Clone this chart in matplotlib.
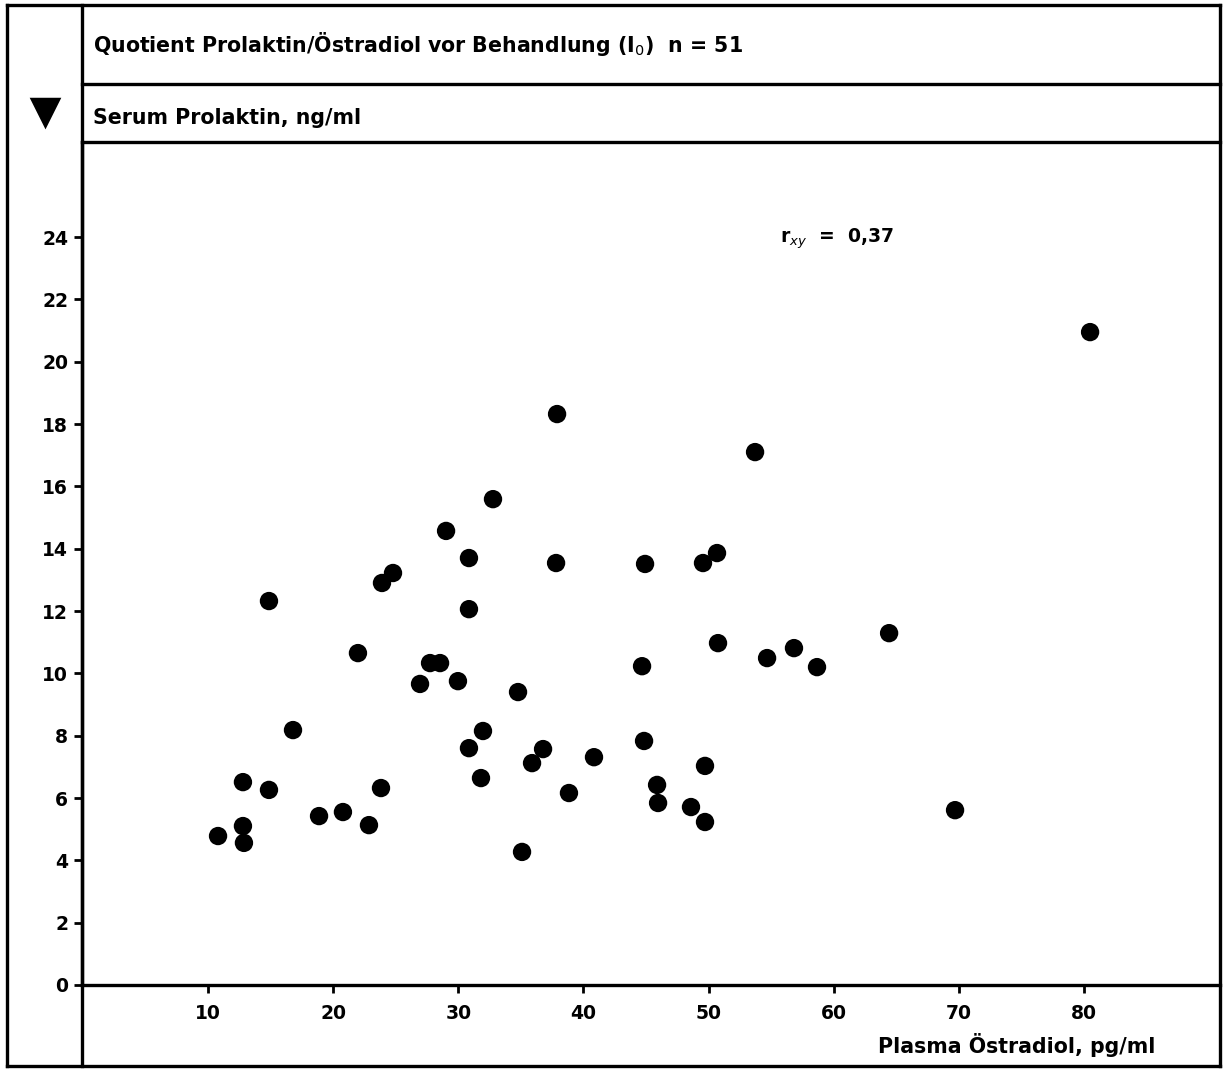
import matplotlib
matplotlib.use("Agg")
import matplotlib.pyplot as plt

# ---- data ----
oestradiol = [10.80, 12.79, 12.79, 12.87, 14.87, 14.87, 16.79, 18.87, 20.78, 21.98,
              22.86, 23.82, 23.90, 24.78, 26.94, 27.74, 28.54, 29.02, 29.97, 30.85,
              30.85, 30.85, 31.97, 31.81, 32.77, 34.77, 35.09, 35.89, 36.77, 37.89,
              37.81, 38.84, 40.84, 44.68, 44.92, 44.84, 45.88, 45.96, 48.59, 49.55,
              50.67, 49.71, 49.71, 50.75, 53.71, 54.67, 56.82, 58.66, 64.42, 69.69,
              80.48]
prolaktin = [4.78, 6.51, 5.10, 4.56, 6.26, 12.32, 8.18, 5.42, 5.55, 10.65,
             5.13, 6.32, 12.90, 13.22, 9.66, 10.33, 10.33, 14.57, 9.75, 13.70,
             12.06, 7.60, 8.15, 6.64, 15.59, 9.40, 4.27, 7.12, 7.57, 18.32,
             13.54, 6.16, 7.31, 10.23, 13.51, 7.83, 6.42, 5.84, 5.71, 13.54,
             13.86, 7.03, 5.23, 10.97, 17.10, 10.49, 10.81, 10.20, 11.29, 5.61,
             20.95]
x_ticks = [10, 20, 30, 40, 50, 60, 70, 80]
y_ticks = [0, 2, 4, 6, 8, 10, 12, 14, 16, 18, 20, 22, 24]

title_text = "Quotient Prolaktin/Östradiol vor Behandlung (I$_0$)  n = 51"
ylabel_text = "Serum Prolaktin, ng/ml"
xlabel_text = "Plasma Östradiol, pg/ml"
r_text = "r$_{xy}$  =  0,37"

W, H = 1225, 1072
fig = plt.figure(figsize=(W / 100, H / 100), dpi=100)
fig.patch.set_facecolor("white")

def fx(px):
    return px / W

def fy(py):
    return 1 - py / H

# main plotting axes
ax = fig.add_axes([fx(82), fy(985), fx(1220) - fx(82), fy(142) - fy(985)])
ax.set_facecolor("none")
ax.scatter(oestradiol, prolaktin, s=175, marker="o", color="black",
           edgecolors="none", zorder=3)
ax.set_xlim(-0.07, 90.86)
ax.set_ylim(0, 27.05)
ax.set_xticks(x_ticks)
ax.set_yticks(y_ticks)
for side in ("top", "right"):
    ax.spines[side].set_visible(False)
for side in ("left", "bottom"):
    ax.spines[side].set_linewidth(2.4)
ax.tick_params(axis="both", direction="out", length=6, width=2.0,
               labelsize=13.5, colors="black")
ax.tick_params(axis="x", pad=8)
ax.tick_params(axis="y", pad=4)
for lab in ax.get_xticklabels() + ax.get_yticklabels():
    lab.set_fontweight("bold")

ax.text(0.613, 0.885, r_text, transform=ax.transAxes, fontsize=13.5,
        fontweight="bold", ha="left", va="center")

# overlay axes for the frame, headers and symbol
ov = fig.add_axes([0, 0, 1, 1], zorder=5)
ov.set_xlim(0, W)
ov.set_ylim(H, 0)
ov.axis("off")
ov.patch.set_alpha(0)
lw = 2.4
kw = dict(color="black", linewidth=lw, solid_capstyle="projecting")
ov.plot([7, 1220], [5, 5], **kw)          # top
ov.plot([7, 1220], [1066, 1066], **kw)    # bottom
ov.plot([7, 7], [5, 1066], **kw)          # outer left
ov.plot([1220, 1220], [5, 1066], **kw)    # right
ov.plot([82, 82], [5, 1066], **kw)        # column divider
ov.plot([82, 1220], [84, 84], **kw)       # header separator
ov.plot([82, 1220], [142, 142], **kw)     # header bottom
ov.plot([45], [112], marker="v", markersize=19, color="black",
        markeredgewidth=2.5, markeredgecolor="black")

ov.text(93, 44, title_text, fontsize=14.8, fontweight="bold",
        ha="left", va="center")
ov.text(93, 118, ylabel_text, fontsize=14.8, fontweight="bold",
        ha="left", va="center")
ov.text(1155, 1045, xlabel_text, fontsize=14.8, fontweight="bold",
        ha="right", va="center")

fig.savefig("out.png", dpi=100, facecolor="white")
